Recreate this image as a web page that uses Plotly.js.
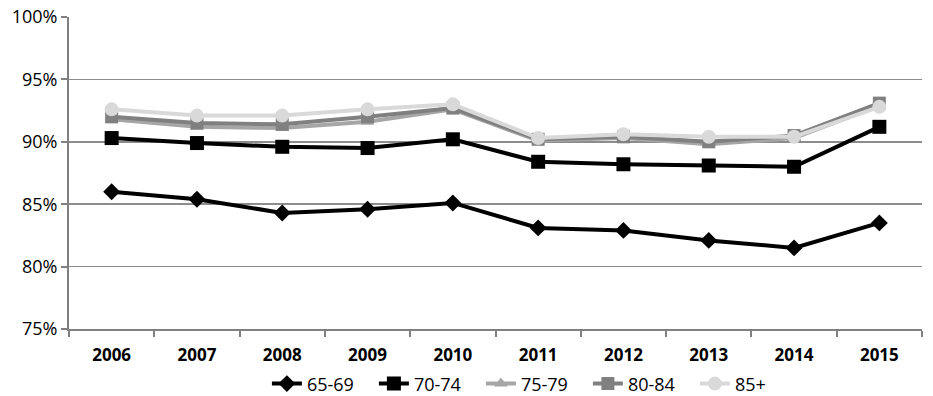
<!DOCTYPE html>
<html>
<head>
<meta charset="utf-8">
<script src="https://cdn.plot.ly/plotly-3.0.1.min.js"></script>
<style>html,body{margin:0;padding:0;background:#fff;}#chart{width:933px;height:396px;}</style>
</head>
<body>
<div id="chart"></div>
<script>
const years = ["2006","2007","2008","2009","2010","2011","2012","2013","2014","2015"];
const s6569 = [86.0, 85.4, 84.3, 84.6, 85.1, 83.1, 82.9, 82.1, 81.5, 83.5];
const s7074 = [90.3, 89.9, 89.6, 89.5, 90.2, 88.4, 88.2, 88.1, 88.0, 91.2];
const s7579 = [91.8, 91.2, 91.1, 91.6, 92.6, 90.1, 90.3, 89.8, 90.3, 92.9];
const s8084 = [92.0, 91.5, 91.4, 92.0, 92.7, 90.2, 90.4, 90.0, 90.5, 93.1];
const s85p  = [92.6, 92.1, 92.1, 92.6, 93.0, 90.3, 90.6, 90.4, 90.4, 92.8];
const yTicks = [75, 80, 85, 90, 95, 100];
const yTickLabels = ["75%", "80%", "85%", "90%", "95%", "100%"];

function tr(name, y, color, symbol, size) {
  return {
    x: years, y: y, name: name, type: 'scatter', mode: 'lines+markers',
    line: {color: color, width: 4},
    marker: {color: color, symbol: symbol, size: size}
  };
}
const data = [
  tr('65-69', s6569, '#000000', 'diamond', 13),
  tr('70-74', s7074, '#000000', 'square', 14),
  tr('75-79', s7579, '#a6a6a6', 'triangle-up', 12),
  tr('80-84', s8084, '#808080', 'square', 13),
  tr('85+', s85p, '#d9d9d9', 'circle', 14)
];
const layout = {
  width: 933, height: 396,
  margin: {l: 69, r: 11, t: 17, b: 67, autoexpand: false},
  paper_bgcolor: '#fff', plot_bgcolor: '#fff',
  font: {family: 'Open Sans, Liberation Sans, sans-serif', color: '#000', size: 18},
  showlegend: true,
  legend: {orientation: 'h', x: 0.232, xanchor: 'left', y: -0.176, yanchor: 'middle',
           font: {size: 18}, traceorder: 'normal', itemwidth: 30, entrywidth: 62},
  xaxis: {
    type: 'category', range: [-0.5, 9.5],
    showgrid: false, showline: true, linecolor: '#808080', linewidth: 2,
    ticks: 'outside', ticklen: 6, tickcolor: '#808080', tickwidth: 2,
    tickson: 'boundaries', ticklabelstandoff: 10,
    tickfont: {family: 'Open Sans, sans-serif', size: 17, weight: 'bold'},
    zeroline: false, fixedrange: true
  },
  yaxis: {
    range: [75, 100], tickvals: yTicks, ticktext: yTickLabels,
    showgrid: true, gridcolor: '#8c8c8c', gridwidth: 1.5,
    showline: true, linecolor: '#808080', linewidth: 2,
    ticks: 'outside', ticklen: 6, tickcolor: '#808080', tickwidth: 2,
    tickfont: {size: 18}, zeroline: false, fixedrange: true
  }
};
Plotly.newPlot('chart', data, layout, {displayModeBar: false, staticPlot: true});
</script>
</body>
</html>
